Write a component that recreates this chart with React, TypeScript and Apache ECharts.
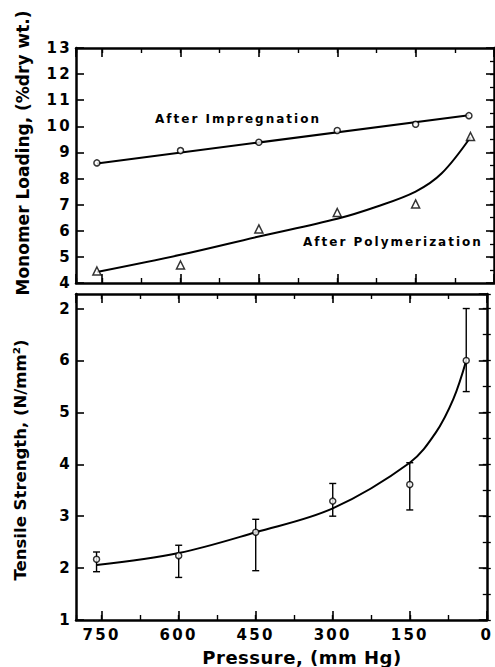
import React, { useEffect, useRef } from "react";
import * as echarts from "echarts";

// Upper panel: monomer loading (% dry wt.) vs. pressure (mm Hg)
const impregPressure = [760, 600, 450, 300, 150, 48];
const impregLoading = [8.6, 9.07, 9.39, 9.84, 10.08, 10.41];
const impregFitPressure = [760, 48];
const impregFitLoading = [8.58, 10.42];

const polyPressure = [760, 600, 450, 300, 150, 45];
const polyLoading = [4.46, 4.69, 6.07, 6.7, 7.03, 9.61];
const polyFitPressure = [760, 600, 450, 300, 225, 150, 100, 45];
const polyFitLoading = [4.42, 5.08, 5.78, 6.46, 6.92, 7.5, 8.2, 9.58];

// Lower panel: tensile strength (N/mm²) vs. pressure (mm Hg)
const tensilePressure = [760, 600, 450, 300, 150, 40];
const tensileMean = [2.17, 2.24, 2.69, 3.29, 3.61, 6.0];
const tensileLow = [1.93, 1.82, 1.95, 3.0, 3.12, 5.4];
const tensileHigh = [2.31, 2.44, 2.94, 3.63, 4.03, 7.0];
const tensileFitPressure = [760, 600, 450, 300, 150, 100, 65, 40];
const tensileFitValue = [2.06, 2.29, 2.69, 3.15, 4.03, 4.6, 5.26, 6.0];

const FONT = '"DejaVu Sans", "Liberation Sans", sans-serif';
const BLACK = "#000";

const zip = (a: number[], b: number[]) => a.map((v, i) => [v, b[i]]);

function xAxesFor(gridIndex: number, withLabels: boolean) {
  const base = {
    gridIndex,
    type: "value",
    min: 0,
    max: 800,
    inverse: true,
    splitLine: { show: false },
  };
  const major = (position: string, labels: boolean) => ({
    ...base,
    position,
    interval: 150,
    axisLine: { show: true, onZero: false, lineStyle: { color: BLACK, width: 2.5 } },
    axisTick: { show: true, inside: true, length: 9, lineStyle: { color: BLACK, width: 1.6 } },
    axisLabel: {
      show: labels,
      showMaxLabel: false,
      margin: 7,
      color: BLACK,
      fontFamily: FONT,
      fontWeight: "bold",
      fontSize: 15,
    },
  });
  const minor = (position: string) => ({
    ...base,
    position,
    interval: 75,
    axisLine: { show: false },
    axisTick: { show: true, inside: true, length: 5, lineStyle: { color: BLACK, width: 1.4 } },
    axisLabel: { show: false },
  });
  return [major("bottom", withLabels), minor("bottom"), major("top", false), minor("top")];
}

function yAxesFor(
  gridIndex: number,
  min: number,
  max: number,
  fmt: (v: number) => string
) {
  const base = { gridIndex, type: "value", min, max, splitLine: { show: false } };
  const major = (position: string, labels: boolean) => ({
    ...base,
    position,
    interval: 1,
    axisLine: { show: true, onZero: false, lineStyle: { color: BLACK, width: 2.5 } },
    axisTick: { show: true, inside: true, length: 8, lineStyle: { color: BLACK, width: 1.6 } },
    axisLabel: {
      show: labels,
      showMaxLabel: labels && max % 1 === 0,
      margin: 4,
      color: BLACK,
      fontFamily: FONT,
      fontWeight: "bold",
      fontSize: 15,
      formatter: fmt,
    },
  });
  const minor = (position: string) => ({
    ...base,
    position,
    interval: 0.5,
    axisLine: { show: false },
    axisTick: { show: true, inside: true, length: 4, lineStyle: { color: BLACK, width: 1.3 } },
    axisLabel: { show: false },
  });
  return [major("left", true), minor("left"), major("right", false), minor("right")];
}

const markerStyle = { color: "#fff", borderColor: BLACK, borderWidth: 1.5 };

export default function App() {
  const ref = useRef<HTMLDivElement>(null);

  useEffect(() => {
    if (!ref.current) return;
    const chart = echarts.init(ref.current, undefined, { renderer: "svg" });

    const option: any = {
      animation: false,
      backgroundColor: "#fff",
      grid: [
        { left: 76, top: 48, right: 1, height: 235 },
        { left: 76, top: 294, right: 1, height: 326 },
      ],
      xAxis: [...xAxesFor(0, false), ...xAxesFor(1, true)],
      yAxis: [
        ...yAxesFor(0, 4, 13, (v: number) => String(v)),
        // the uppermost tick of the strength scale is printed as "2"
        ...yAxesFor(1, 1, 7.28, (v: number) => (v === 7 ? "2" : String(v))),
      ],
      series: [
        {
          name: "After Impregnation fit",
          type: "line",
          xAxisIndex: 0,
          yAxisIndex: 0,
          data: zip(impregFitPressure, impregFitLoading),
          showSymbol: false,
          lineStyle: { color: BLACK, width: 2 },
        },
        {
          name: "After Polymerization fit",
          type: "line",
          xAxisIndex: 0,
          yAxisIndex: 0,
          data: zip(polyFitPressure, polyFitLoading),
          smooth: 0.35,
          showSymbol: false,
          lineStyle: { color: BLACK, width: 2 },
        },
        {
          name: "After Impregnation",
          type: "scatter",
          xAxisIndex: 0,
          yAxisIndex: 0,
          data: zip(impregPressure, impregLoading),
          symbol: "circle",
          symbolSize: 6,
          itemStyle: markerStyle,
          z: 5,
        },
        {
          name: "After Polymerization",
          type: "scatter",
          xAxisIndex: 0,
          yAxisIndex: 0,
          data: zip(polyPressure, polyLoading),
          symbol: "triangle",
          symbolSize: 8,
          itemStyle: markerStyle,
          z: 5,
        },
        {
          name: "Tensile fit",
          type: "line",
          xAxisIndex: 4,
          yAxisIndex: 4,
          data: zip(tensileFitPressure, tensileFitValue),
          smooth: 0.35,
          showSymbol: false,
          lineStyle: { color: BLACK, width: 2 },
        },
        {
          name: "Tensile range",
          type: "custom",
          xAxisIndex: 4,
          yAxisIndex: 4,
          data: tensilePressure.map((p, i) => [p, tensileLow[i], tensileHigh[i]]),
          encode: { x: 0, y: [1, 2] },
          renderItem: (_params: any, api: any) => {
            const x = api.value(0);
            const lo = api.coord([x, api.value(1)]);
            const hi = api.coord([x, api.value(2)]);
            const cap = 3.5;
            const st = { stroke: BLACK, lineWidth: 1.4 };
            return {
              type: "group",
              children: [
                { type: "line", shape: { x1: lo[0], y1: lo[1], x2: hi[0], y2: hi[1] }, style: st },
                { type: "line", shape: { x1: lo[0] - cap, y1: lo[1], x2: lo[0] + cap, y2: lo[1] }, style: st },
                { type: "line", shape: { x1: hi[0] - cap, y1: hi[1], x2: hi[0] + cap, y2: hi[1] }, style: st },
              ],
            };
          },
          z: 4,
        },
        {
          name: "Tensile Strength",
          type: "scatter",
          xAxisIndex: 4,
          yAxisIndex: 4,
          data: zip(tensilePressure, tensileMean),
          symbol: "circle",
          symbolSize: 6,
          itemStyle: markerStyle,
          z: 5,
        },
      ],
      graphic: [
        {
          type: "text",
          x: 155,
          y: 119,
          style: {
            text: "After Impregnation",
            font: `bold 12px ${FONT}`,
            fill: BLACK,
            align: "left",
            verticalAlign: "middle",
          },
        },
        {
          type: "text",
          x: 303,
          y: 242,
          style: {
            text: "After Polymerization",
            font: `bold 12px ${FONT}`,
            fill: BLACK,
            align: "left",
            verticalAlign: "middle",
          },
        },
        {
          type: "text",
          x: 23,
          y: 153,
          rotation: Math.PI / 2,
          style: {
            text: "Monomer Loading, (%dry wt.)",
            font: `bold 17px ${FONT}`,
            fill: BLACK,
            align: "center",
            verticalAlign: "middle",
          },
        },
        {
          type: "text",
          x: 20,
          y: 460,
          rotation: Math.PI / 2,
          style: {
            text: "Tensile Strength, (N/mm²)",
            font: `bold 16.5px ${FONT}`,
            fill: BLACK,
            align: "center",
            verticalAlign: "middle",
          },
        },
        {
          type: "text",
          x: 302,
          y: 657,
          style: {
            text: "Pressure, (mm Hg)",
            font: `bold 18px ${FONT}`,
            fill: BLACK,
            align: "center",
            verticalAlign: "middle",
          },
        },
      ],
    };

    chart.setOption(option);
    return () => chart.dispose();
  }, []);

  return (
    <>
      <style>{`
        .pressure-chart svg text[style*="15px"] { letter-spacing: 2.3px; }
        .pressure-chart svg text[style*="12px"] { letter-spacing: 2px; }
        .pressure-chart svg text[style*="18px"] { letter-spacing: 0.5px; }
      `}</style>
      <div
        ref={ref}
        className="pressure-chart"
        style={{ position: "fixed", left: 0, top: 0, width: 495, height: 667, background: "#fff" }}
      />
    </>
  );
}
